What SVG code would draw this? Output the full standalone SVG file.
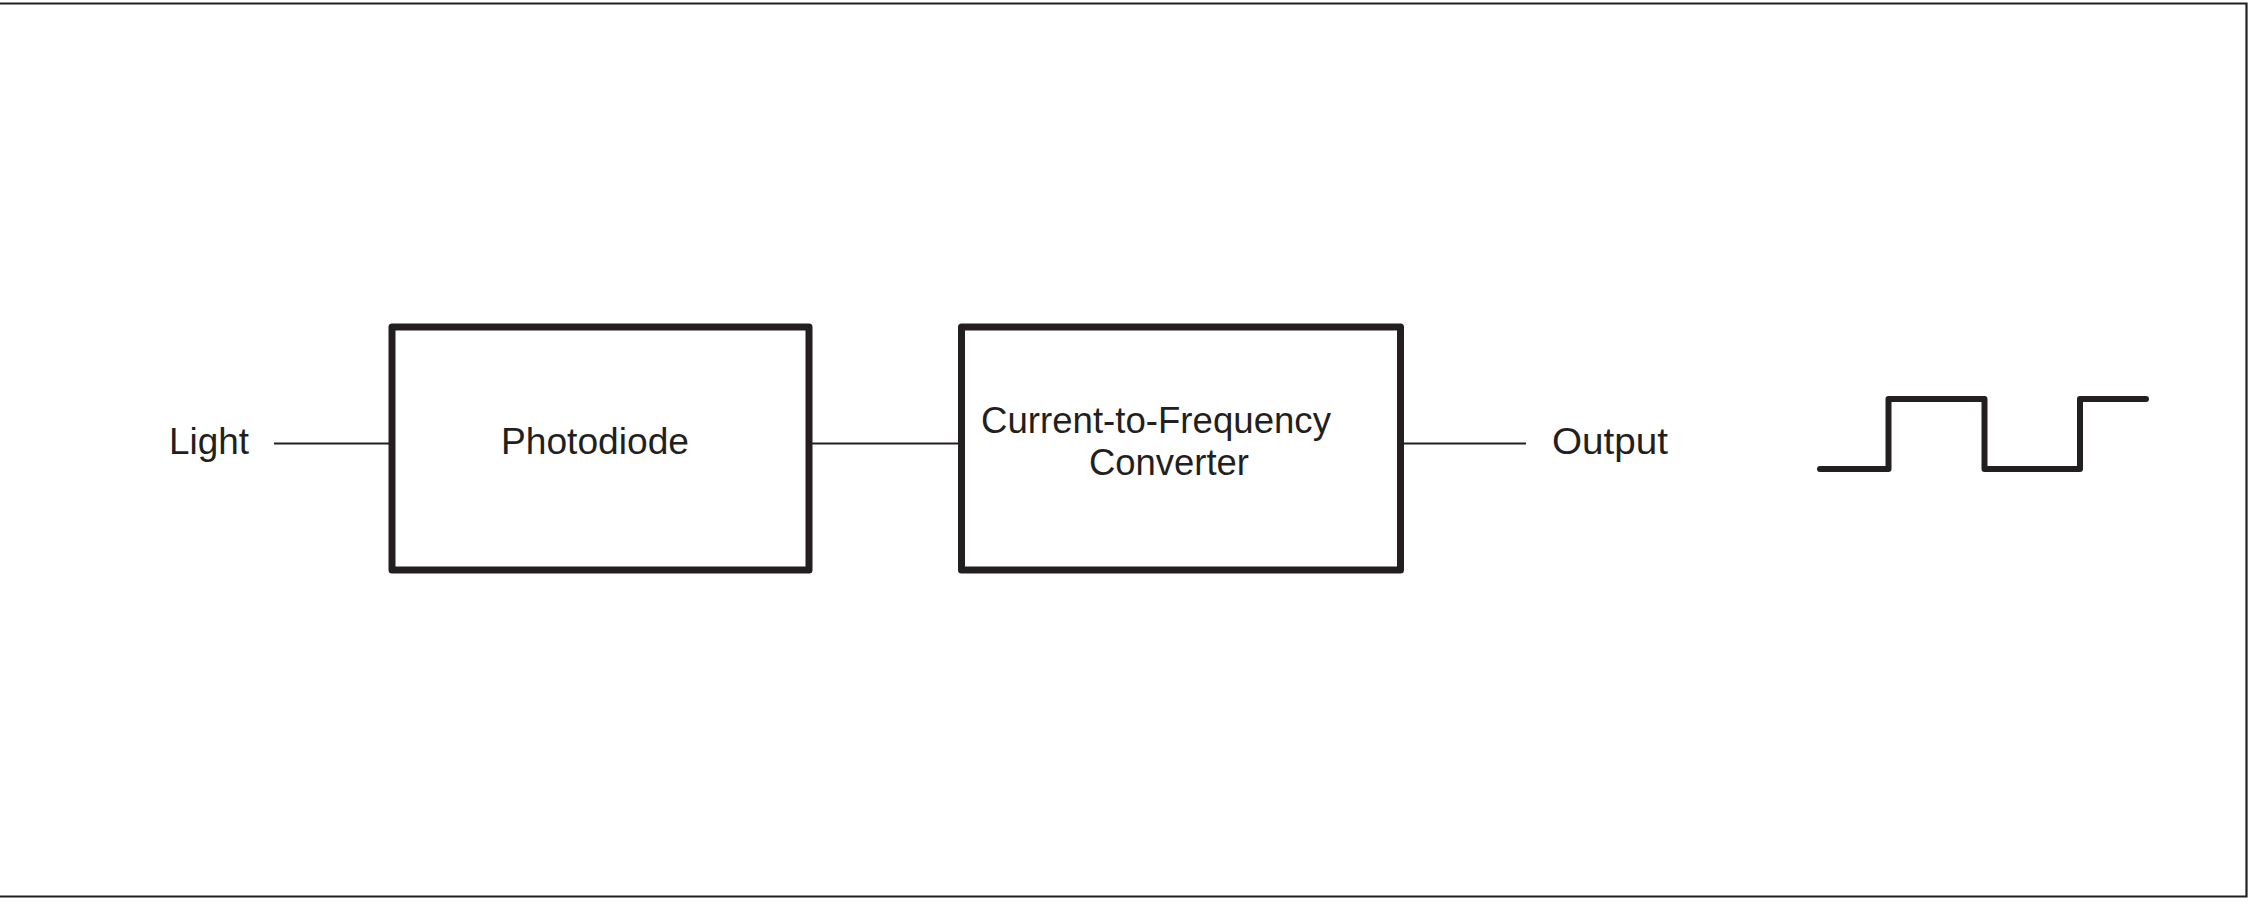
<svg xmlns="http://www.w3.org/2000/svg" width="2255" height="910" viewBox="0 0 2255 910">
<style>
.bg{fill:#ffffff}
.frame{fill:none;stroke:#231f20;stroke-width:2.2}
.box{fill:none;stroke:#231f20;stroke-width:7;stroke-linejoin:round}
.wire{fill:none;stroke:#231f20;stroke-width:2}
.wave{fill:none;stroke:#231f20;stroke-width:6;stroke-linecap:round;stroke-linejoin:round}
.lbl{font-family:"Liberation Sans",Arial,sans-serif;font-size:36px;fill:#231f20}
</style>
<rect class="bg" x="0" y="0" width="2255" height="910"/>
<path class="frame" d="M0,3.5 H2246.5 V896.5 H0"/>
<g id="connectors">
<line class="wire" x1="274" y1="443.5" x2="389" y2="443.5"/>
<line class="wire" x1="812" y1="443.5" x2="958" y2="443.5"/>
<line class="wire" x1="1404" y1="443.5" x2="1526" y2="443.5"/>
</g>
<g id="light">
<text class="lbl" x="169" y="454" textLength="80" lengthAdjust="spacingAndGlyphs">Light</text>
</g>
<g id="photodiode">
<rect class="box" x="392" y="327" width="417" height="243"/>
<text class="lbl" x="501" y="454" textLength="188" lengthAdjust="spacingAndGlyphs">Photodiode</text>
</g>
<g id="converter">
<rect class="box" x="961.5" y="327" width="439" height="243"/>
<text class="lbl" x="981" y="433" textLength="350" lengthAdjust="spacingAndGlyphs">Current-to-Frequency</text>
<text class="lbl" x="1089" y="475" textLength="160" lengthAdjust="spacingAndGlyphs">Converter</text>
</g>
<g id="output">
<text class="lbl" x="1552" y="454" textLength="116" lengthAdjust="spacingAndGlyphs">Output</text>
</g>
<g id="waveform">
<path class="wave" d="M1820,469 H1888.5 V399 H1984.5 V469 H2080 V399 H2146"/>
</g>
</svg>
